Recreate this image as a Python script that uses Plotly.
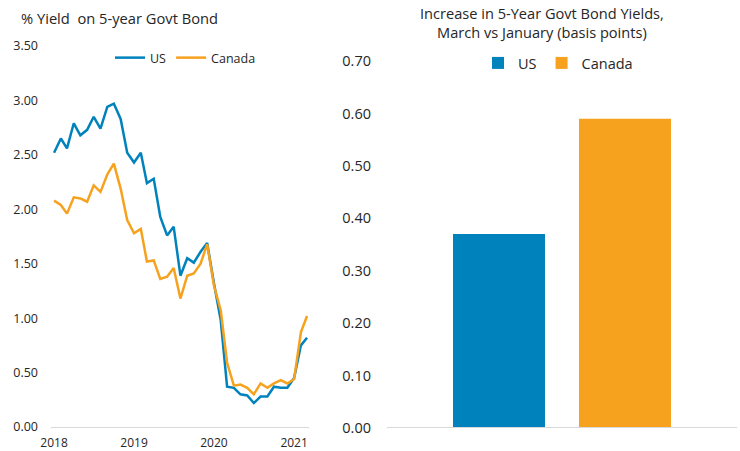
import pandas as pd
import plotly.graph_objects as go

# ---- data ----
months = pd.date_range("2018-01-01", periods=39, freq="MS")
us_yield = [2.52, 2.65, 2.56, 2.79, 2.68, 2.73, 2.85, 2.74, 2.94, 2.97, 2.83, 2.52,
            2.43, 2.52, 2.24, 2.28, 1.93, 1.76, 1.84, 1.39, 1.55, 1.51, 1.61, 1.69,
            1.32, 0.98, 0.37, 0.36, 0.30, 0.29, 0.22, 0.28, 0.28, 0.37, 0.36, 0.36,
            0.45, 0.75, 0.82]
canada_yield = [2.08, 2.04, 1.96, 2.11, 2.10, 2.07, 2.22, 2.16, 2.32, 2.42, 2.19, 1.90,
                1.78, 1.82, 1.52, 1.53, 1.36, 1.38, 1.46, 1.18, 1.39, 1.41, 1.50, 1.68,
                1.30, 1.07, 0.59, 0.38, 0.39, 0.36, 0.30, 0.40, 0.36, 0.40, 0.43, 0.40,
                0.44, 0.87, 1.02]
bar_series = ["US", "Canada"]
bar_values = [0.37, 0.59]
left_yticks = [0, 0.5, 1, 1.5, 2, 2.5, 3, 3.5]
right_yticks = [0, 0.1, 0.2, 0.3, 0.4, 0.5, 0.6, 0.7]
xtick_dates = ["2018-01-01", "2019-01-01", "2020-01-01", "2021-01-01"]
xtick_text = ["2018", "2019", "2020", "2021"]

BLUE = "#0082BD"
ORANGE = "#F7A21E"
TXT = "#262626"
FONT = "Open Sans"

fig = go.Figure()
fig.add_trace(go.Scatter(x=months, y=us_yield, name="US", mode="lines",
                         line=dict(color=BLUE, width=2.5), legend="legend",
                         xaxis="x", yaxis="y"))
fig.add_trace(go.Scatter(x=months, y=canada_yield, name="Canada", mode="lines",
                         line=dict(color=ORANGE, width=2.5), legend="legend",
                         xaxis="x", yaxis="y"))
for name, val, col in zip(bar_series, bar_values, [BLUE, ORANGE]):
    fig.add_trace(go.Bar(x=[""], y=[val], name=name, marker=dict(color=col, line=dict(width=0)),
                         legend="legend2", xaxis="x2", yaxis="y2"))

fig.update_layout(
    width=740, height=451,
    margin=dict(l=0, r=0, t=0, b=0),
    paper_bgcolor="white", plot_bgcolor="white",
    font=dict(family=FONT, color=TXT, size=12),
    barmode="group", bargap=0.28, bargroupgap=0.27,
    xaxis=dict(domain=[51/740, 309/740], type="date", automargin=False,
               range=["2017-12-18", "2021-03-10"],
               tickvals=xtick_dates, ticktext=xtick_text,
               showgrid=False, zeroline=False,
               showline=True, linecolor="#d9d9d9", linewidth=1,
               ticks="", tickfont=dict(size=12), ticklabelstandoff=5),
    yaxis=dict(domain=[(451-427)/451, (451-46)/451], range=[0, 3.5], automargin=False,
               tickvals=left_yticks, tickformat=".2f",
               showgrid=False, zeroline=False, showline=False,
               ticks="", tickfont=dict(size=12.5), ticklabelstandoff=12),
    xaxis2=dict(domain=[387/740, 737/740], showticklabels=False, automargin=False,
                showgrid=False, zeroline=False,
                showline=True, linecolor="#d9d9d9", linewidth=1, ticks=""),
    yaxis2=dict(domain=[(451-428)/451, (451-61)/451], range=[0, 0.7], automargin=False,
                anchor="x2", tickvals=right_yticks, tickformat=".2f",
                showgrid=False, zeroline=False, showline=False,
                ticks="", tickfont=dict(size=14.5), ticklabelstandoff=15),
    legend=dict(orientation="h", x=110/740, y=(451-58)/451, xanchor="left", yanchor="middle",
                font=dict(size=12.5), bgcolor="rgba(0,0,0,0)", itemwidth=30,
                tracegroupgap=0),
    legend2=dict(orientation="h", x=558/740, y=(451-63)/451, xanchor="center", yanchor="middle",
                 font=dict(size=14.5), bgcolor="rgba(0,0,0,0)"),
    annotations=[
        dict(text="% Yield  on 5-year Govt Bond", x=19/740, y=(451-18)/451,
             xref="paper", yref="paper", xanchor="left", yanchor="middle",
             showarrow=False, font=dict(size=14.7)),
        dict(text="Increase in 5-Year Govt Bond Yields,<br>March vs January (basis points)",
             x=542/740, y=(451-22)/451, xref="paper", yref="paper",
             xanchor="center", yanchor="middle", showarrow=False,
             font=dict(size=14.6)),
    ],
)

fig.write_html("out.html", config={"displayModeBar": False},
               post_script="document.body.style.margin='0';document.body.style.padding='0';")
